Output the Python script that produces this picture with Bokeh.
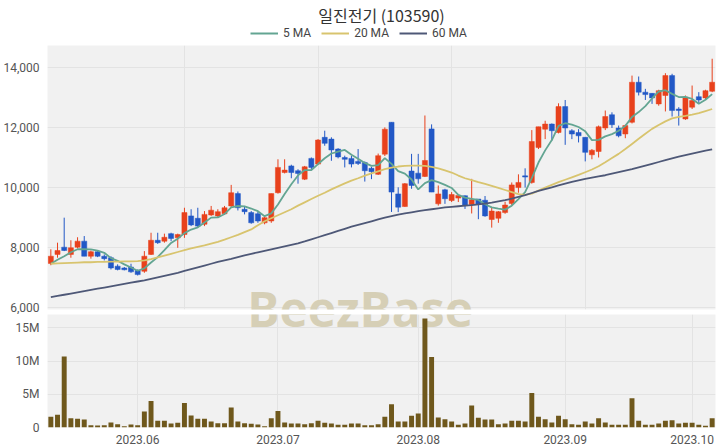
from bokeh.plotting import figure
from bokeh.models import (ColumnDataSource, FixedTicker, NumeralTickFormatter, Label,
                          Legend, LegendItem, Range1d)
from bokeh.layouts import column
from bokeh.embed import file_html
from bokeh.resources import INLINE

title_text = "일진전기 (103590)"
watermark = "BeezBase"
ma_names = ["5 MA", "20 MA", "60 MA"]
month_ticks = [13, 34, 55, 77, 96]
month_labels = ["2023.06", "2023.07", "2023.08", "2023.09", "2023.10"]
price_ticks = [6000, 8000, 10000, 12000, 14000]
vol_ticks = [0, 5000000, 10000000, 15000000]
vol_tick_labels = ["0", "5M", "10M", "15M"]

opens = [7480, 7780, 8020, 7780, 8020, 8220, 7720, 7870, 7720, 7670,
         7390, 7330, 7360, 7250, 7220, 7780, 8250, 8220, 8470, 8330,
         8440, 9060, 8980, 8780, 9090, 9060, 9130, 9390, 9800, 9280,
         9170, 9130, 8830, 8890, 9830, 10500, 10720, 10560, 10280, 10970,
         10780, 11670, 11610, 11280, 11000, 10970, 10870, 10830, 10640, 10440,
         11110, 12170, 9790, 9370, 10550, 10480, 10370, 11950, 9460, 9925,
         9570, 9650, 9730, 9440, 9620, 9580, 8940, 8980, 9170, 9470,
         10000, 10390, 10170, 11330, 11940, 12110, 11830, 12690, 11890, 11830,
         11670, 11090, 11200, 11980, 12420, 11980, 11780, 12170, 13500, 13170,
         13130, 12780, 13060, 13720, 12610, 12280, 12670, 13020, 12980, 13200]
highs = [7950, 8170, 9000, 8250, 8350, 8390, 7910, 7890, 7780, 7720,
         7450, 7360, 7470, 7280, 7890, 8500, 8500, 8470, 8500, 8470,
         9330, 9280, 9330, 9220, 9390, 9280, 9390, 10090, 9870, 9390,
         9220, 9200, 9060, 9800, 10940, 10940, 10760, 10610, 10720, 11000,
         11610, 11890, 11670, 11310, 11060, 11060, 11280, 10870, 10690, 11130,
         12000, 12170, 10010, 10150, 11120, 11120, 12395, 12100, 10070, 9960,
         9850, 9740, 9740, 10290, 9620, 9720, 9330, 9220, 9530, 10170,
         10440, 10640, 11910, 12020, 12220, 12130, 12800, 12910, 11940, 11940,
         11670, 11280, 12060, 12560, 12500, 12060, 12090, 13720, 13690, 13280,
         13130, 13250, 13800, 13780, 12670, 13060, 13390, 13170, 13250, 14280]
lows = [7420, 7670, 7890, 7670, 7980, 7720, 7640, 7690, 7580, 7280,
        7250, 7250, 7170, 7080, 7170, 7760, 8130, 8170, 8220, 8000,
        8330, 8720, 8670, 8720, 9060, 9020, 9090, 9330, 9240, 9110,
        8800, 8830, 8780, 8830, 9800, 10470, 10310, 10130, 10250, 10580,
        10750, 11390, 10890, 10970, 10670, 10670, 10750, 10200, 10280, 10420,
        11050, 9190, 9185, 9360, 9960, 10130, 10350, 9850, 9400, 9460,
        9520, 9520, 9290, 9140, 8950, 9030, 8670, 8830, 9130, 9420,
        9830, 10000, 10130, 11280, 11610, 11560, 11800, 11420, 11610, 11500,
        10870, 10940, 11000, 11910, 11980, 11670, 11640, 12130, 13060, 12910,
        12780, 12720, 12530, 12360, 12060, 12250, 12610, 12780, 12910, 13170]
closes = [7720, 7910, 7910, 8000, 8220, 7720, 7870, 7720, 7640, 7330,
          7280, 7270, 7200, 7110, 7720, 8250, 8170, 8350, 8310, 8440,
          9170, 8760, 8720, 9110, 9250, 9200, 9330, 9830, 9330, 9200,
          8830, 8890, 9000, 9800, 10670, 10580, 10500, 10470, 10690, 10670,
          11580, 11470, 11250, 11020, 10940, 10780, 10800, 10560, 10530, 11060,
          11940, 9850, 9350, 10130, 10070, 10290, 10900, 9850, 9790, 9630,
          9770, 9740, 9400, 9600, 9440, 9060, 9220, 9200, 9420, 10090,
          10170, 10350, 11530, 12020, 12110, 11890, 12690, 11980, 11780, 11720,
          11170, 11240, 12020, 12360, 12090, 11720, 12060, 13500, 13170, 13090,
          12980, 13220, 13720, 12560, 12560, 13000, 12890, 12910, 13220, 13500]
volumes_m = [1.6, 1.9, 10.7, 1.4, 1.3, 1.2, 0.35, 0.3, 0.35, 0.75,
             0.5, 0.2, 0.45, 0.35, 2.4, 4.0, 1.0, 1.0, 0.6, 0.7,
             3.7, 1.8, 1.3, 1.3, 0.9, 0.65, 0.65, 3.0, 0.9, 0.65,
             0.55, 0.45, 0.2, 1.4, 2.5, 0.75, 0.6, 0.6, 0.5, 0.65,
             1.0, 0.7, 0.6, 0.4, 0.4, 0.6, 0.6, 0.35, 0.35, 0.5,
             1.6, 3.5, 0.9, 0.9, 1.75, 2.1, 16.4, 10.6, 1.5, 1.25,
             0.9, 0.4, 0.6, 3.3, 1.45, 1.2, 1.2, 0.5, 0.6, 1.0,
             1.0, 0.9, 5.2, 1.6, 1.25, 0.75, 1.75, 1.25, 0.5, 0.4,
             0.9, 0.6, 1.4, 0.75, 0.4, 0.4, 0.4, 4.4, 1.0, 0.4,
             0.4, 0.6, 1.0, 1.1, 0.6, 0.7, 0.7, 0.4, 0.25, 1.4]
ma5 = [7470, 7600, 7720, 7850, 7952, 7952, 7944, 7906, 7834, 7656,
       7568, 7448, 7344, 7238, 7316, 7510, 7690, 7924, 8160, 8304,
       8488, 8606, 8680, 8840, 9002, 9008, 9122, 9344, 9388, 9378,
       9304, 9216, 9050, 9144, 9438, 9788, 10110, 10404, 10582, 10582,
       10782, 10976, 11132, 11198, 11252, 11092, 10958, 10820, 10722, 10746,
       10978, 10788, 10546, 10466, 10268, 9938, 10148, 10248, 10180, 10092,
       9988, 9756, 9666, 9628, 9590, 9448, 9344, 9304, 9268, 9398,
       9620, 9846, 10312, 10832, 11236, 11580, 12048, 12138, 12090, 12012,
       11868, 11578, 11586, 11702, 11776, 11886, 12050, 12346, 12508, 12708,
       12960, 13192, 13236, 13114, 13008, 13012, 12946, 12784, 12916, 13104]
ma20 = [7470, 7480, 7490, 7500, 7510, 7520, 7520, 7530, 7530, 7540,
        7540, 7550, 7550, 7560, 7580, 7620, 7680, 7740, 7800, 7860,
        7920, 7980, 8030, 8080, 8140, 8200, 8270, 8350, 8430, 8520,
        8610, 8750, 8880, 8980, 9080, 9180, 9280, 9400, 9510, 9620,
        9730, 9830, 9940, 10040, 10140, 10230, 10310, 10400, 10470, 10540,
        10610, 10660, 10700, 10720, 10730, 10730, 10720, 10690, 10640, 10570,
        10500, 10400, 10310, 10250, 10180, 10120, 10060, 9990, 9920, 9850,
        9780, 9760, 9800, 9900, 10000, 10090, 10180, 10260, 10340, 10420,
        10510, 10600, 10710, 10840, 10980, 11120, 11280, 11450, 11620, 11790,
        11950, 12080, 12200, 12300, 12350, 12380, 12420, 12470, 12540, 12610]
ma60 = [6360, 6400, 6440, 6480, 6520, 6560, 6600, 6640, 6680, 6720,
        6760, 6800, 6840, 6880, 6920, 6970, 7020, 7070, 7120, 7170,
        7230, 7290, 7350, 7410, 7470, 7530, 7580, 7630, 7690, 7750,
        7800, 7850, 7900, 7950, 8000, 8050, 8100, 8150, 8210, 8280,
        8350, 8420, 8490, 8560, 8630, 8700, 8760, 8820, 8880, 8940,
        9000, 9050, 9100, 9140, 9180, 9220, 9250, 9280, 9310, 9340,
        9360, 9380, 9400, 9420, 9440, 9470, 9500, 9540, 9580, 9630,
        9690, 9750, 9820, 9890, 9950, 10010, 10070, 10130, 10190, 10240,
        10290, 10330, 10370, 10410, 10460, 10510, 10560, 10610, 10670, 10730,
        10790, 10850, 10910, 10970, 11030, 11080, 11130, 11180, 11230, 11270]

RED = "#e8411c"
BLUE = "#2258c6"
VOL = "#6f581c"
BG = "#f1f1f1"
GRID = "#e3e3e3"
TICK_COLOR = "#555555"
MA_COLORS = ["#63a592", "#d8c46e", "#4e5877"]
MA_COLS = ["ma5", "ma20", "ma60"]
WM_COLOR = "#d6cfb6"

n = len(closes)
xs = list(range(n))
colors = [RED if c >= o else BLUE for o, c in zip(opens, closes)]
src = ColumnDataSource(dict(
    x=xs, o=opens, h=highs, l=lows, c=closes,
    top=[max(o, c) for o, c in zip(opens, closes)],
    bottom=[min(o, c) for o, c in zip(opens, closes)],
    color=colors,
    vol=[v * 1e6 for v in volumes_m],
    ma5=ma5, ma20=ma20, ma60=ma60,
))

W = 720
x_range = Range1d(-0.5, n - 0.5)

# ---- header: title + legend -------------------------------------------
h = figure(width=W, height=45, x_range=Range1d(0, W), y_range=Range1d(0, 45),
           output_backend="svg", toolbar_location=None,
           x_axis_location=None, y_axis_location=None,
           min_border_left=0, min_border_right=0, min_border_top=0, min_border_bottom=0)
h.grid.visible = False
h.outline_line_color = None
h.background_fill_color = "white"
h.border_fill_color = "white"
h.add_layout(Label(x=360, y=30.5, text=title_text, text_align="center",
                   text_baseline="middle", text_font="Noto Sans CJK KR",
                   text_font_size="16px", text_color="#333333"))
# legend keys: the MA series themselves (they fall outside this header's range)
leg_r = [h.line("x", col, color=c, line_width=2, source=src)
         for col, c in zip(MA_COLS, MA_COLORS)]
legend = Legend(items=[LegendItem(label=nm, renderers=[r]) for nm, r in zip(ma_names, leg_r)],
                location=(203, 5.5), orientation="horizontal",
                glyph_width=28, glyph_height=14, label_height=14,
                label_standoff=5, spacing=10, padding=0, margin=0,
                border_line_color=None, background_fill_alpha=0,
                label_text_font="Roboto", label_text_font_size="12px",
                label_text_color="#444444")
h.add_layout(legend)

# ---- price panel --------------------------------------------------------
p = figure(width=W, height=269, x_range=x_range, y_range=Range1d(5950, 14720),
           output_backend="svg", toolbar_location=None,
           min_border_left=45, min_border_right=5, min_border_top=0, min_border_bottom=5)
p.background_fill_color = BG
p.border_fill_color = "white"
p.outline_line_color = None
p.xaxis.visible = False
p.xgrid.ticker = FixedTicker(ticks=[20, 40, 60, 80])
p.xgrid.grid_line_color = GRID
p.ygrid.ticker = FixedTicker(ticks=price_ticks)
p.ygrid.grid_line_color = GRID
p.yaxis.ticker = FixedTicker(ticks=price_ticks)
p.yaxis.formatter = NumeralTickFormatter(format="0,0")
p.yaxis.axis_line_color = None
p.yaxis.major_tick_line_color = None
p.yaxis.minor_tick_line_color = None
p.yaxis.major_label_standoff = 2
p.yaxis.major_label_text_font = "Roboto"
p.yaxis.major_label_text_font_size = "12px"
p.yaxis.major_label_text_color = TICK_COLOR

p.add_layout(Label(x=46.3, y=5983, text=watermark, text_align="center",
                   text_baseline="alphabetic", text_font="Open Sans",
                   text_font_style="bold", text_font_size="48px",
                   text_color=WM_COLOR, level="underlay"))

p.segment(x0="x", y0="h", x1="x", y1="l", color="color", line_width=1, source=src)
p.vbar(x="x", width=0.76, top="top", bottom="bottom", fill_color="color",
       line_color="color", line_width=0.5, source=src)
for col, c in zip(MA_COLS, MA_COLORS):
    p.line("x", col, color=c, line_width=1.8, source=src)

# ---- volume panel -------------------------------------------------------
v = figure(width=W, height=134, x_range=x_range, y_range=Range1d(0, 17.0e6),
           output_backend="svg", toolbar_location=None,
           min_border_left=45, min_border_right=5, min_border_top=0, min_border_bottom=21)
v.background_fill_color = BG
v.border_fill_color = "white"
v.outline_line_color = None
v.xgrid.ticker = FixedTicker(ticks=month_ticks)
v.xgrid.grid_line_color = GRID
v.ygrid.ticker = FixedTicker(ticks=vol_ticks)
v.ygrid.grid_line_color = GRID
v.yaxis.ticker = FixedTicker(ticks=vol_ticks)
v.yaxis.major_label_overrides = {t: s for t, s in zip(vol_ticks, vol_tick_labels)}
v.xaxis.ticker = FixedTicker(ticks=month_ticks)
v.xaxis.major_label_overrides = {t: s for t, s in zip(month_ticks, month_labels)}
for ax in (v.xaxis, v.yaxis):
    ax.axis_line_color = None
    ax.major_tick_line_color = None
    ax.minor_tick_line_color = None
    ax.major_label_text_font = "Roboto"
    ax.major_label_text_font_size = "12px"
    ax.major_label_text_color = TICK_COLOR
v.yaxis.major_label_standoff = 2
v.xaxis.major_label_standoff = 1

v.add_layout(Label(x=46.3, y=17.9e6, text=watermark, text_align="center",
                   text_baseline="alphabetic", text_font="Open Sans",
                   text_font_style="bold", text_font_size="48px",
                   text_color=WM_COLOR, level="underlay"))
v.vbar(x="x", width=0.74, top="vol", bottom=0, fill_color=VOL, line_color=None, source=src)

layout = column(h, p, v, spacing=0)
open("out.html", "w").write(file_html(layout, INLINE))
